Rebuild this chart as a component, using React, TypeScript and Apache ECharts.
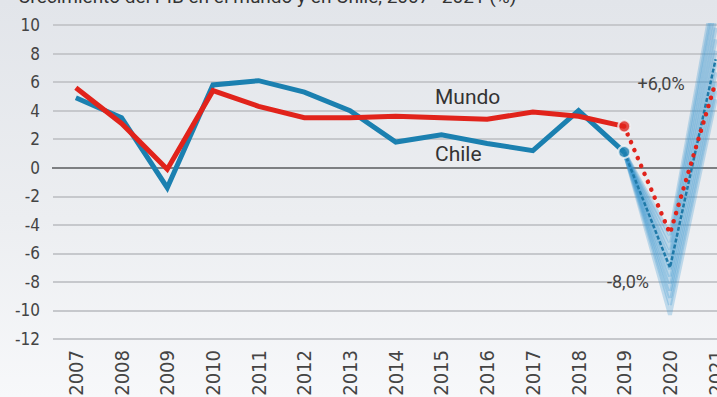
import React, { useEffect, useRef } from "react";
import * as echarts from "echarts";

const years = ["2007","2008","2009","2010","2011","2012","2013","2014","2015","2016","2017","2018","2019","2020","2021"];
const mundo = [5.6, 3.1, -0.1, 5.4, 4.3, 3.5, 3.5, 3.6, 3.5, 3.4, 3.9, 3.6, 2.9, null, null];
const mundoProj = [null, null, null, null, null, null, null, null, null, null, null, null, 2.9, -4.6, 6.0];
const chile = [4.9, 3.5, -1.4, 5.8, 6.1, 5.3, 4.0, 1.8, 2.3, 1.7, 1.2, 4.0, 1.1, null, null];
const chileProj2020 = -7.0;
const chileProj2021 = 7.6;
// fan of Chile scenarios: [2020, 2021]
const chileFan: [number, number][] = [
  [-4.7, 13.0], [-5.2, 12.3], [-5.7, 11.5], [-6.2, 10.6], [-6.6, 9.8],
  [-7.1, 9.0], [-7.6, 8.2], [-8.1, 7.4], [-8.6, 6.7], [-9.1, 6.0],
  [-9.6, 5.4], [-10.3, 4.8],
];
const yTicks = { min: -12, max: 10, interval: 2 };
const title = "Crecimiento del PIB en el mundo y en Chile, 2007–2021 (%)";

const RED = "#e1231b";
const BLUE = "#1b80b0";

export default function App() {
  const ref = useRef<HTMLDivElement>(null);
  useEffect(() => {
    document.body.style.margin = "0";
    const chart = echarts.init(ref.current!, undefined, { renderer: "svg" });
    const last = chile.length - 3; // index of 2019
    const fanSeries = chileFan.map(([a, b]) => ({
      type: "line",
      silent: true,
      symbol: "none",
      z: 2,
      data: years.map((_, i) => (i === last ? chile[last] : i === last + 1 ? a : i === last + 2 ? b : "-")),
      lineStyle: { color: "#3a97cf", width: 4, opacity: 0.28 },
    }));
    chart.setOption({
      animation: false,
      grid: { left: 53, top: 25, width: 685.5, height: 314, outerBoundsMode: "none", containLabel: false },
      xAxis: {
        type: "category",
        data: years,
        boundaryGap: true,
        axisLine: { show: false },
        axisTick: { show: false },
        axisLabel: {
          rotate: 90,
          margin: 11,
          fontSize: 20,
          color: "#444",
          fontFamily: "DejaVu Sans Condensed, DejaVu Sans, sans-serif",
        },
      },
      yAxis: {
        type: "value",
        min: yTicks.min,
        max: yTicks.max,
        interval: yTicks.interval,
        axisLine: { show: false },
        axisTick: { show: false },
        axisLabel: {
          margin: 13,
          fontSize: 17,
          color: "#444",
          fontFamily: "DejaVu Sans Condensed, DejaVu Sans, sans-serif",
        },
        splitLine: { lineStyle: { color: "#c6c8cc", width: 2 } },
      },
      graphic: [
        {
          type: "line",
          silent: true,
          z: 1,
          shape: { x1: 52, y1: 168, x2: 717, y2: 168 },
          style: { stroke: "#7d7f82", lineWidth: 2 },
        },
        {
          type: "text", x: 18, y: 6, silent: true,
          style: { text: title, fontSize: 19, fill: "#333", textVerticalAlign: "bottom", fontFamily: "Roboto, sans-serif" },
        },
        {
          type: "text", x: 435, y: 97, silent: true,
          style: { text: "Mundo", fontSize: 21, fill: "#333", textVerticalAlign: "middle", fontFamily: "Roboto, sans-serif" },
        },
        {
          type: "text", x: 435, y: 154, silent: true,
          style: { text: "Chile", fontSize: 21, fill: "#333", textVerticalAlign: "middle", fontFamily: "Roboto, sans-serif" },
        },
        {
          type: "text", x: 661, y: 83, silent: true, z: 10,
          style: { text: "+6,0%", fontSize: 18, fill: "#444", textAlign: "center", textVerticalAlign: "middle", fontFamily: "Roboto, sans-serif" },
        },
        {
          type: "text", x: 628, y: 281, silent: true, z: 10,
          style: { text: "-8,0%", fontSize: 18, fill: "#444", textAlign: "center", textVerticalAlign: "middle", fontFamily: "Roboto, sans-serif" },
        },
      ],
      series: [
        ...fanSeries,
        {
          type: "line",
          silent: true,
          symbol: "none",
          z: 3,
          data: years.map((_, i) => (i === last ? chile[last] : i === last + 1 ? chileProj2020 : i === last + 2 ? chileProj2021 : "-")),
          lineStyle: { color: "#1f79a8", width: 2.5, type: [4, 2] },
        },
        {
          type: "line",
          silent: true,
          symbol: "none",
          z: 4,
          data: chile.map((v) => (v === null ? "-" : v)),
          lineStyle: { color: BLUE, width: 5, join: "miter" },
        },
        {
          type: "line",
          silent: true,
          symbol: "none",
          z: 5,
          data: mundoProj.map((v) => (v === null ? "-" : v)),
          lineStyle: { color: RED, width: 4.5, type: [0.1, 8.5], cap: "round" },
        },
        {
          type: "line",
          silent: true,
          symbol: "none",
          z: 6,
          data: mundo.map((v) => (v === null ? "-" : v)),
          lineStyle: { color: RED, width: 5, join: "miter" },
        },
        {
          type: "scatter",
          silent: true,
          z: 7,
          symbolSize: 12,
          data: years.map((_, i) => (i === last ? chile[i] : "-")),
          itemStyle: { color: BLUE, borderColor: "#f2f4f6", borderWidth: 2 },
        },
        {
          type: "scatter",
          silent: true,
          z: 7,
          symbolSize: 12,
          data: years.map((_, i) => (i === last ? mundo[i] : "-")),
          itemStyle: { color: RED, borderColor: "#f2f4f6", borderWidth: 2 },
        },
      ],
    });
    return () => chart.dispose();
  }, []);
  return (
    <div
      style={{
        width: 717,
        height: 397,
        background: "linear-gradient(to bottom, #e2e5ea 0%, #eceef1 55%, #f7f8fa 100%)",
        overflow: "hidden",
      }}
    >
      <div ref={ref} style={{ width: 717, height: 397 }} />
    </div>
  );
}
